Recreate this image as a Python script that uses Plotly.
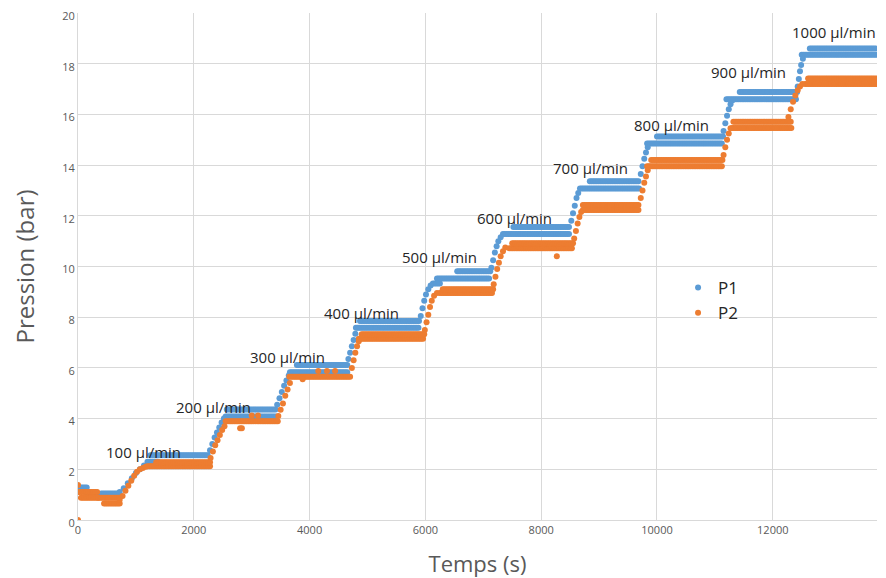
import plotly.graph_objects as go

# ---- data (time in s, pressure in bar) ----
SAMPLE_DT = 30  # spacing of readings along a plateau (s)

# plateau bands: start, end, level
p1_seg_start = [0, 150, 400, 1200, 1250, 2550, 2570, 3660, 3780, 4800, 4870, 6130, 6200, 6550,
                7340, 7520, 8670, 8840, 9830, 10000, 11200, 11430, 12500, 12640]
p1_seg_end = [150, 400, 720, 1400, 2250, 3420, 3420, 4650, 4650, 5900, 5900, 6250, 7120, 7120,
              8500, 8500, 9700, 9700, 11140, 11140, 12420, 12420, 13800, 13800]
p1_seg_level = [1.28, 0.95, 1.05, 2.3, 2.55, 4.08, 4.36, 5.83, 6.11, 7.58, 7.85, 9.33, 9.53, 9.81,
                11.28, 11.56, 13.08, 13.36, 14.85, 15.13, 16.6, 16.88, 18.35, 18.6]
# individual readings on the rises
p1_ramp_t = [720, 790, 860, 930, 1000, 1070, 1140,
             2280, 2320, 2360, 2400, 2440, 2480, 2520,
             3440, 3480, 3520, 3560, 3600, 3640,
             4670, 4700, 4730, 4760, 4790,
             5920, 5950, 5980, 6010, 6050, 6090,
             7140, 7170, 7200, 7230, 7260, 7300,
             8520, 8550, 8580, 8610, 8640,
             9720, 9750, 9780, 9810, 9840,
             11150, 11180, 11210, 11240, 11270, 11300,
             12430, 12450, 12470, 12490, 12520]
p1_ramp_v = [1.1, 1.25, 1.45, 1.65, 1.85, 2.0, 2.15,
             2.75, 3.0, 3.25, 3.45, 3.65, 3.85, 4.0,
             4.55, 4.8, 5.05, 5.3, 5.5, 5.7,
             6.35, 6.6, 6.85, 7.1, 7.35,
             8.05, 8.35, 8.65, 8.9, 9.1, 9.25,
             9.95, 10.25, 10.55, 10.8, 11.0, 11.15,
             11.8, 12.1, 12.4, 12.7, 12.9,
             13.65, 13.95, 14.25, 14.5, 14.7,
             15.35, 15.65, 15.95, 16.2, 16.4, 16.55,
             17.1, 17.4, 17.7, 17.95, 18.2]

p2_seg_start = [0, 50, 350, 450, 1200, 1350, 2550, 3650, 4850, 4900, 6250, 6300,
                7450, 7500, 8720, 8720, 9830, 9900, 11300, 11320, 12560, 12610]
p2_seg_end = [350, 350, 720, 720, 2280, 2280, 3450, 4720, 5980, 5980, 7170, 7170,
              8550, 8550, 9700, 9700, 11140, 11140, 12330, 12330, 13800, 13800]
p2_seg_level = [1.1, 0.88, 0.88, 0.65, 2.12, 2.28, 3.9, 5.65, 7.15, 7.33, 8.95, 9.1,
                10.72, 10.92, 12.23, 12.43, 13.95, 14.2, 15.46, 15.71, 17.2, 17.42]
p2_ramp_t = [0, 0,
             720, 770, 820, 870, 920, 970, 1020, 1070, 1120, 1170,
             2290, 2330, 2370, 2410, 2450, 2490, 2530, 2800, 2830, 3000, 3110,
             3460, 3500, 3540, 3580, 3620, 3660, 3880, 4150, 4300, 4440,
             4730, 4760, 4790, 4820, 4850,
             5990, 6020, 6050, 6080, 6110, 6150, 6200,
             7180, 7210, 7240, 7270, 7300, 7340, 7380, 8270,
             8570, 8600, 8630, 8660, 8690,
             9720, 9750, 9780, 9810, 9840,
             11150, 11180, 11210, 11240, 11270,
             12270, 12310, 12350, 12390, 12430, 12470, 12510]
p2_ramp_v = [0.0, 1.38,
             0.8, 0.95, 1.15, 1.35, 1.55, 1.75, 1.9, 2.0, 2.05, 2.1,
             2.45, 2.7, 2.95, 3.15, 3.35, 3.55, 3.7, 3.62, 3.62, 4.12, 4.12,
             4.1, 4.35, 4.6, 4.9, 5.15, 5.4, 5.55, 5.88, 5.88, 5.88,
             6.0, 6.3, 6.6, 6.85, 7.05,
             7.5, 7.8, 8.1, 8.4, 8.65, 8.85, 8.95,
             9.3, 9.6, 9.9, 10.15, 10.4, 10.6, 10.75, 10.4,
             11.1, 11.4, 11.7, 11.95, 12.15,
             12.7, 13.0, 13.3, 13.55, 13.8,
             14.4, 14.7, 15.0, 15.25, 15.45,
             15.9, 16.2, 16.5, 16.75, 16.95, 17.1, 17.2]

label_text = ["100 µl/min", "200 µl/min", "300 µl/min", "400 µl/min", "500 µl/min",
              "600 µl/min", "700 µl/min", "800 µl/min", "900 µl/min", "1000 µl/min"]
label_t = [1123, 2332, 3610, 4905, 6252, 7547, 8843, 10259, 11589, 13050]
label_p = [2.68, 4.46, 6.43, 8.17, 10.38, 11.91, 13.89, 15.58, 17.67, 19.25]


def readings(starts, ends, levels, rt, rv):
    xs, ys = [], []
    for s, e, lv in zip(starts, ends, levels):
        t = s
        while t <= e:
            xs.append(t)
            ys.append(lv)
            t += SAMPLE_DT
    xs += rt
    ys += rv
    return xs, ys


p1_t, p1_v = readings(p1_seg_start, p1_seg_end, p1_seg_level, p1_ramp_t, p1_ramp_v)
p2_t, p2_v = readings(p2_seg_start, p2_seg_end, p2_seg_level, p2_ramp_t, p2_ramp_v)

BLUE = "#5B9BD5"
ORANGE = "#ED7D31"
GREY = "#595959"
GRID = "#D9D9D9"

fig = go.Figure()
fig.add_trace(go.Scatter(x=p1_t, y=p1_v, mode="markers", name="P1",
                         marker=dict(color=BLUE, size=6, line=dict(width=0))))
fig.add_trace(go.Scatter(x=p2_t, y=p2_v, mode="markers", name="P2",
                         marker=dict(color=ORANGE, size=6, line=dict(width=0))))

for txt, t, p in zip(label_text, label_t, label_p):
    fig.add_annotation(x=t, y=p, text=txt, showarrow=False,
                       font=dict(family="Open Sans", size=15, color="#262626"))

# the page body adds an 8 px offset, so the figure is 8 px smaller and margins shifted
fig.update_layout(
    width=878, height=570,
    margin=dict(l=70, r=9, t=5, b=58),
    paper_bgcolor="white", plot_bgcolor="white",
    font=dict(family="Open Sans", color=GREY),
    showlegend=True,
    legend=dict(x=0.751, y=0.493, xanchor="left", yanchor="top",
                bgcolor="rgba(0,0,0,0)", font=dict(size=17, color="#262626")),
    xaxis=dict(range=[0, 13800], tickvals=[0, 2000, 4000, 6000, 8000, 10000, 12000],
               ticktext=["0", "2000", "4000", "6000", "8000", "10000", "12000"],
               showgrid=True, gridcolor=GRID, gridwidth=1, zeroline=False,
               showline=True, linecolor=GRID, ticks="", automargin=False,
               ticklabeloverflow="allow",
               tickfont=dict(size=11, color=GREY),
               title=dict(text="Temps (s)", font=dict(size=22, color=GREY), standoff=20)),
    yaxis=dict(range=[0, 20], tickvals=list(range(0, 21, 2)),
               showgrid=True, gridcolor=GRID, gridwidth=1, zeroline=False,
               showline=True, linecolor=GRID, ticks="", automargin=False,
               ticklabeloverflow="allow", ticklabelshift=3,
               tickfont=dict(size=11, color=GREY),
               title=dict(text="Pression (bar)", font=dict(size=24, color=GREY), standoff=23)),
)

fig.write_html("out.html")
